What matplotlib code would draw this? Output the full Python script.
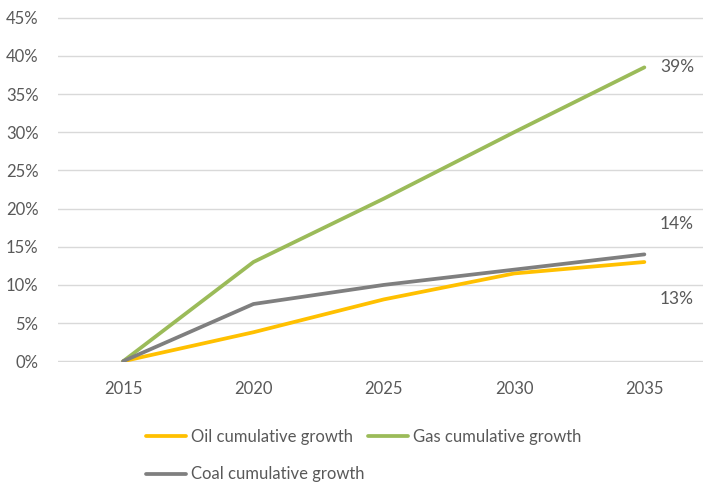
import matplotlib
matplotlib.use('Agg')
import matplotlib.pyplot as plt

plt.rcParams['font.family'] = ['Lato', 'DejaVu Sans']

years = ['2015', '2020', '2025', '2030', '2035']
oil = [0, 3.8, 8.1, 11.5, 13.0]
gas = [0, 13.0, 21.3, 30.0, 38.5]
coal = [0, 7.5, 10.0, 12.0, 14.0]
end_labels = ['39%', '14%', '13%']

text_col = '#595959'

fig = plt.figure(figsize=(7.03, 4.83), dpi=100)
ax = fig.add_axes([0.0825, 0.2505, 0.9175, 0.7143])

x = list(range(len(years)))
l_oil, = ax.plot(x, oil, color='#FFC000', lw=2.7, label='Oil cumulative growth', solid_capstyle='round')
l_gas, = ax.plot(x, gas, color='#9BBB59', lw=2.7, label='Gas cumulative growth', solid_capstyle='round')
l_coal, = ax.plot(x, coal, color='#7F7F7F', lw=2.7, label='Coal cumulative growth', solid_capstyle='round')

ax.text(4.25, gas[-1], end_labels[0], ha='center', va='center', fontsize=12.5, color=text_col)
ax.text(4.25, 18.0, end_labels[1], ha='center', va='center', fontsize=12.5, color=text_col)
ax.text(4.25, 8.2, end_labels[2], ha='center', va='center', fontsize=12.5, color=text_col)

ax.set_xlim(-0.5, 4.45)
ax.set_ylim(-0.1, 45.1)
ax.set_yticks(range(0, 46, 5))
ax.set_yticklabels([f'{v}%' for v in range(0, 46, 5)])
ax.set_xticks(x)
ax.set_xticklabels(years)
ax.tick_params(length=0, labelsize=12, labelcolor=text_col)
ax.tick_params(axis='x', pad=14)
ax.tick_params(axis='y', pad=14)
ax.grid(axis='y', color='#D9D9D9', lw=1)
ax.set_axisbelow(True)
for s in ax.spines.values():
    s.set_visible(False)

fig.legend([l_oil, l_coal, l_gas], [l_oil.get_label(), l_coal.get_label(), l_gas.get_label()],
           loc='upper left', bbox_to_anchor=(0.198, 0.126), ncol=2, frameon=False,
           fontsize=12, labelcolor=text_col, handlelength=2.4, handletextpad=0.3,
           columnspacing=0.2, labelspacing=1.3, borderaxespad=0)

fig.savefig('out.png', dpi=100)
